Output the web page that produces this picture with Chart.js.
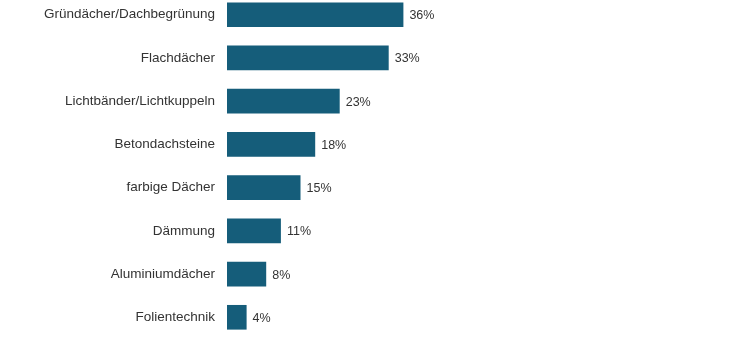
<!DOCTYPE html>
<html>
<head>
<meta charset="utf-8">
<script src="https://cdn.jsdelivr.net/npm/chart.js@4"></script>
<style>
  html, body { margin: 0; padding: 0; background: #fff; overflow: hidden; }
  body { width: 730px; height: 340px; position: relative; }
  /* the tick padding adds ~20px above and below the plot, so the box is shifted up to compensate */
  #wrap { position: absolute; left: 0; top: -27.5px; width: 730px; height: 386px; }
</style>
</head>
<body>
<div id="wrap"><canvas id="chart"></canvas></div>
<script>
// categories and values
const categories = [
  'Gründächer/Dachbegrünung',
  'Flachdächer',
  'Lichtbänder/Lichtkuppeln',
  'Betondachsteine',
  'farbige Dächer',
  'Dämmung',
  'Aluminiumdächer',
  'Folientechnik'
];
const shares = [36, 33, 23, 18, 15, 11, 8, 4];

const barColor = '#155d7a';
const textColor = '#333333';

// Draws the "36%" labels to the right of each bar
const valueLabels = {
  id: 'valueLabels',
  afterDatasetsDraw(chart) {
    const ctx = chart.ctx;
    const meta = chart.getDatasetMeta(0);
    ctx.save();
    ctx.font = '12.5px "Liberation Sans", Arial, sans-serif';
    ctx.fillStyle = textColor;
    ctx.textAlign = 'left';
    ctx.textBaseline = 'middle';
    meta.data.forEach((bar, i) => {
      ctx.fillText(shares[i] + '%', bar.x + 6, bar.y + 1);
    });
    ctx.restore();
  }
};

new Chart(document.getElementById('chart'), {
  type: 'bar',
  data: {
    labels: categories,
    datasets: [{
      data: shares,
      backgroundColor: barColor,
      borderWidth: 0,
      categoryPercentage: 1,
      barPercentage: 0.57
    }]
  },
  options: {
    indexAxis: 'y',
    responsive: true,
    maintainAspectRatio: false,
    animation: false,
    layout: { padding: { left: 0, right: 13, top: 0, bottom: 0 } },
    plugins: {
      legend: { display: false },
      tooltip: { enabled: false }
    },
    scales: {
      x: {
        display: false,
        min: 0,
        max: 100
      },
      y: {
        grid: { display: false, drawTicks: false },
        border: { display: false },
        ticks: {
          color: textColor,
          padding: 12,
          font: { family: '"Liberation Sans", Arial, sans-serif', size: 13.5 }
        },
        afterFit(scale) {
          scale.width = 227;
        }
      }
    }
  },
  plugins: [valueLabels]
});
</script>
</body>
</html>
